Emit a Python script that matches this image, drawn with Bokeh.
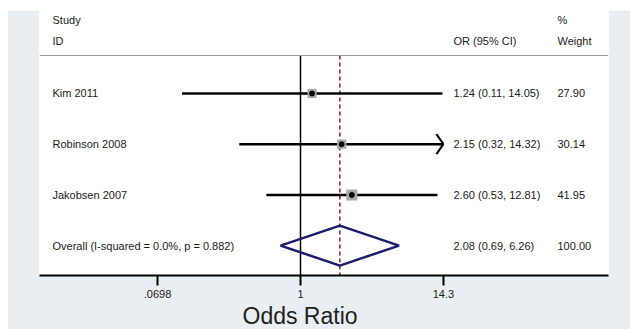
import math
from bokeh.plotting import figure
from bokeh.layouts import column, row
from bokeh.models import Range1d, FixedTicker, Span, Title, LinearScale, Spacer
from bokeh.core.properties import value
from bokeh.embed import file_html
from bokeh.resources import INLINE

# ---------------- data ----------------
studies = ["Kim 2011", "Robinson 2008", "Jakobsen 2007"]
or_est = [1.24, 2.15, 2.60]
ci_lo = [0.11, 0.32, 0.53]
ci_hi = [14.05, 14.32, 12.81]
weights = [27.90, 30.14, 41.95]

overall_label = "Overall  (I-squared = 0.0%, p = 0.882)"
overall_est = 2.08
overall_lo = 0.69
overall_hi = 6.26
overall_weight = 100.00

tick_values = [0.0698, 1, 14.3]
tick_labels = [".0698", "1", "14.3"]

# ---------------- layout ----------------
BG = "#e8eef1"
FONT = "Liberation Sans"
TXT = "#1a1a1a"
W, H = 623, 319
ML, MR, MT, MB = 32, 22, 0, 54
XMIN, XMAX = 10 ** -2.11, 10 ** 2.49
YMIN, YMAX = -3.59, 1.637
frame_w = W - ML - MR
frame_h = H - MT - MB
px_dec = frame_w / math.log10(XMAX / XMIN)
px_y = frame_h / (YMAX - YMIN)
axis_lo, axis_hi = min(tick_values), max(tick_values)

p = figure(width=W, height=H, x_axis_type="log",
           x_range=Range1d(XMIN, XMAX), y_range=Range1d(YMIN, YMAX),
           output_backend="svg", toolbar_location=None,
           min_border_left=ML, min_border_right=MR,
           min_border_top=MT, min_border_bottom=MB,
           background_fill_color="white", border_fill_color=BG,
           outline_line_color=None)
p.extra_x_ranges = {"cols": Range1d(0, frame_w)}
p.extra_x_scales = {"cols": LinearScale()}
p.xgrid.visible = False
p.ygrid.visible = False
p.yaxis.visible = False

row_y = [-i for i in range(len(studies))]
overall_y = -len(studies)
header_line_y = 0.75

# header
p.add_layout(Span(location=header_line_y, dimension="width",
                  line_color="#9a9a9a", line_width=1))
txt_kw = dict(x_range_name="cols", text_font=value(FONT), text_font_size="11px",
              text_baseline="middle", text_color=TXT)
p.text(x=[13, 13, 414, 518, 518], y=[1.44, 1.045, 1.045, 1.44, 1.045],
       text=["Study", "ID", "OR (95% CI)", "%", "Weight"], **txt_kw)

# null line and overall dashed line
p.segment(x0=[1], y0=[header_line_y], x1=[1], y1=[YMIN],
          line_color="black", line_width=1.5)
p.segment(x0=[overall_est], y0=[header_line_y], x1=[overall_est], y1=[YMIN],
          line_color="#8b1c1c", line_width=1.5, line_dash="4 3")

# confidence intervals
lo_draw = [max(v, axis_lo) for v in ci_lo]
hi_draw = [min(v, axis_hi) for v in ci_hi]
p.segment(x0=lo_draw, y0=row_y, x1=hi_draw, y1=row_y,
          line_color="black", line_width=2.5)

# arrows for clipped CIs
dx = 10 ** (-7 / px_dec)
dy = 10 / px_y
for h, y in zip(ci_hi, row_y):
    if h > axis_hi:
        p.segment(x0=[axis_hi * dx, axis_hi * dx], y0=[y + dy, y - dy],
                  x1=[axis_hi, axis_hi], y1=[y, y],
                  line_color="black", line_width=2)

# weight boxes and point estimates
p.scatter(x=or_est, y=row_y, marker="square",
          size=[1.7 * math.sqrt(w) for w in weights],
          fill_color="#a9a9a9", line_color=None)
p.scatter(x=or_est, y=row_y, marker="circle", size=5,
          fill_color="black", line_color="black")

# overall diamond
dh = 20 / px_y
p.patch(x=[overall_lo, overall_est, overall_hi, overall_est],
        y=[overall_y, overall_y + dh, overall_y, overall_y - dh],
        fill_alpha=0, line_color="#1c1c6e", line_width=2.5)

# row texts
names = studies + [overall_label]
ys = row_y + [overall_y]
or_text = [f"{e:.2f} ({l:.2f}, {h:.2f})" for e, l, h in zip(or_est, ci_lo, ci_hi)]
or_text.append(f"{overall_est:.2f} ({overall_lo:.2f}, {overall_hi:.2f})")
w_text = [f"{w:.2f}" for w in weights] + [f"{overall_weight:.2f}"]
p.text(x=[13] * len(names), y=ys, text=names, **txt_kw)
p.text(x=[414] * len(names), y=ys, text=or_text, **txt_kw)
p.text(x=[518] * len(names), y=ys, text=w_text, **txt_kw)

# x axis
ax = p.xaxis[0]
ax.ticker = FixedTicker(ticks=tick_values)
ax.major_label_overrides = {v: s for v, s in zip(tick_values, tick_labels)}
ax.minor_tick_line_color = None
ax.major_tick_in = 0
ax.major_tick_out = 10
ax.major_tick_line_width = 2
ax.axis_line_width = 2
ax.axis_line_color = "black"
ax.major_tick_line_color = "black"
ax.major_label_text_font = FONT
ax.major_label_text_font_size = "11px"
ax.major_label_text_color = TXT
ax.major_label_standoff = 4

# axis title, centred on the null line (OR = 1)
null_px = math.log10(1 / XMIN) * px_dec
p.add_layout(Title(text="Odds Ratio", align="left", offset=null_px - 58,
                   standoff=0, text_font=FONT, text_font_size="23px",
                   text_font_style="normal", text_color="#222222"), "below")

page = column(Spacer(height=10),
              row(Spacer(width=7), p, spacing=0),
              spacing=0)
open("out.html", "w").write(file_html(page, INLINE))
